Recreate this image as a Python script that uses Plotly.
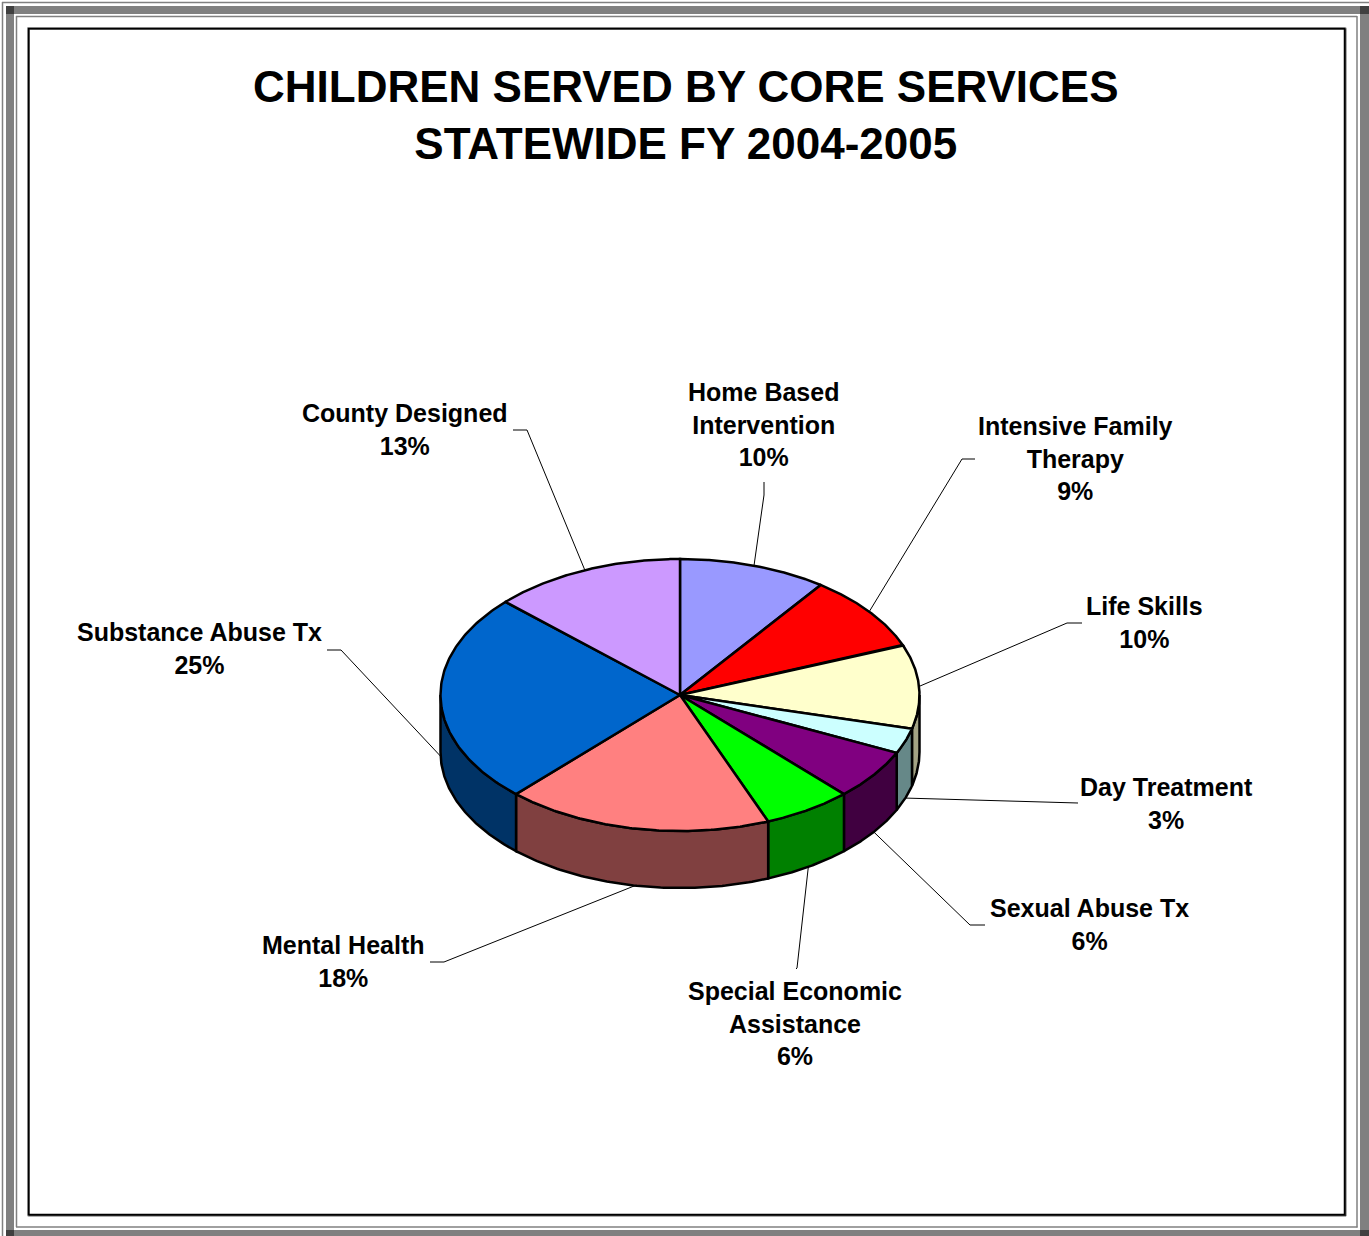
import numpy as np
import plotly.graph_objects as go

# ---- data -------------------------------------------------------------
categories = [
    "Home Based Intervention",
    "Intensive Family Therapy",
    "Life Skills",
    "Day Treatment",
    "Sexual Abuse Tx",
    "Special Economic Assistance",
    "Mental Health",
    "Substance Abuse Tx",
    "County Designed",
]
percent = [10, 9, 10, 3, 6, 6, 18, 25, 13]

# display wrapping of the longer category names
wrapped = {
    "Home Based Intervention": "Home Based<br>Intervention",
    "Intensive Family Therapy": "Intensive Family<br>Therapy",
    "Special Economic Assistance": "Special Economic<br>Assistance",
}

# ---- styling ----------------------------------------------------------
top_colors = ["#9999FF", "#FF0000", "#FFFFCC", "#CCFFFF", "#800080",
              "#00FF00", "#FF8080", "#0066CC", "#CC99FF"]
side_colors = ["#4D4D80", "#800000", "#A3A384", "#668888", "#400040",
               "#008000", "#804040", "#003366", "#664D80"]

W, H = 1369, 1236
CX, CY = 680.0, 695.0       # pie centre (page pixels)
RX, RY = 239.5, 136.0       # ellipse radii of the tilted top face
DEPTH = 57.0                # thickness of the pie

# label centres and leader-line elbow / end points (page pixels)
label_pos = [(763, 424), (1075, 458), (1144, 622), (1166, 803), (1089, 924),
             (795, 1023), (343, 961), (199, 648), (405, 429)]
leader_elbow = [(764, 495), (962, 459), (1067, 623), (1063, 803), (970, 925),
                (797, 968), (444, 962), (341, 650), (527, 430)]
leader_end = [(764, 482), (975, 459), (1082, 623), (1078, 803), (985, 925),
              (796, 969), (430, 962), (327, 650), (513, 430)]

FONT = "Liberation Sans, Arial, sans-serif"


def rim(t_deg, dy=0.0):
    t = np.radians(t_deg)
    return CX + RX * np.sin(t), CY - RY * np.cos(t) + dy


fig = go.Figure()

total = float(sum(percent))
ends = np.cumsum(percent) / total * 360.0
starts = np.concatenate([[0.0], ends[:-1]])

# side walls (only the front half, 90..270 deg clockwise from top, is visible)
for a0, a1, col in zip(starts, ends, side_colors):
    lo, hi = max(a0, 90.0), min(a1, 270.0)
    if hi <= lo:
        continue
    ts = np.linspace(lo, hi, 80)
    xt, yt = rim(ts)
    xb, yb = rim(ts[::-1], DEPTH)
    xs = np.concatenate([xt, xb, xt[:1]])
    ys = np.concatenate([yt, yb, yt[:1]])
    fig.add_trace(go.Scatter(x=xs, y=ys, mode="lines", fill="toself",
                             fillcolor=col, line=dict(color="black", width=2.5),
                             hoverinfo="skip", showlegend=False))

# top faces
for a0, a1, col in zip(starts, ends, top_colors):
    ts = np.linspace(a0, a1, 120)
    xa, ya = rim(ts)
    xs = np.concatenate([[CX], xa, [CX]])
    ys = np.concatenate([[CY], ya, [CY]])
    fig.add_trace(go.Scatter(x=xs, y=ys, mode="lines", fill="toself",
                             fillcolor=col, line=dict(color="black", width=2.5),
                             hoverinfo="skip", showlegend=False))

# leader lines and labels
annotations = []
for i, (a0, a1) in enumerate(zip(starts, ends)):
    mid = (a0 + a1) / 2.0
    dy = DEPTH if 90.0 <= mid <= 270.0 else 0.0
    ax, ay = rim(mid, dy)
    ex, ey = leader_elbow[i]
    nx, ny = leader_end[i]
    fig.add_trace(go.Scatter(x=[ax, ex, nx], y=[ay, ey, ny], mode="lines",
                             line=dict(color="black", width=1),
                             hoverinfo="skip", showlegend=False))
    name = wrapped.get(categories[i], categories[i])
    lx, ly = label_pos[i]
    annotations.append(dict(
        x=lx, y=ly, xref="x", yref="y", showarrow=False,
        text=f"<b>{name}<br>{percent[i]}%</b>",
        font=dict(family=FONT, size=25, color="black"),
        xanchor="center", yanchor="middle", align="center"))

annotations.append(dict(
    x=686, y=115, xref="x", yref="y", showarrow=False,
    text="<b>CHILDREN SERVED BY CORE SERVICES<br>STATEWIDE FY 2004-2005</b>",
    font=dict(family=FONT, size=44, color="black"),
    xanchor="center", yanchor="middle", align="center"))

# window-style frame around the chart area
GRAY, DARK = "#808080", "#404040"
shapes = [
    # thick bands
    dict(type="rect", x0=6, x1=14, y0=6, y1=H, fillcolor=GRAY, line_width=0),
    dict(type="rect", x0=6, x1=W, y0=6, y1=14, fillcolor=GRAY, line_width=0),
    dict(type="rect", x0=1360, x1=W, y0=6, y1=H, fillcolor=GRAY, line_width=0),
    dict(type="rect", x0=6, x1=W, y0=1230, y1=H, fillcolor=GRAY, line_width=0),
    # dark corners
    dict(type="rect", x0=6, x1=14, y0=6, y1=14, fillcolor=DARK, line_width=0),
    dict(type="rect", x0=1360, x1=W, y0=6, y1=14, fillcolor=DARK, line_width=0),
    dict(type="rect", x0=6, x1=14, y0=1230, y1=H, fillcolor=DARK, line_width=0),
    dict(type="rect", x0=1360, x1=W, y0=1230, y1=H, fillcolor=DARK, line_width=0),
    # thin outer lines
    dict(type="line", x0=2.5, x1=2.5, y0=2, y1=H, line=dict(color=GRAY, width=1.5)),
    dict(type="line", x0=2, x1=W, y0=2.5, y1=2.5, line=dict(color=GRAY, width=1.5)),
    # thin inner lines
    dict(type="line", x0=16.5, x1=16.5, y0=16, y1=1227, line=dict(color=GRAY, width=1.5)),
    dict(type="line", x0=16, x1=1357, y0=16.5, y1=16.5, line=dict(color=GRAY, width=1.5)),
    dict(type="line", x0=1357, x1=1357, y0=16, y1=1227.5, line=dict(color=GRAY, width=1.5)),
    dict(type="line", x0=16, x1=1357.5, y0=1227, y1=1227, line=dict(color=GRAY, width=1.5)),
    # chart area border with a soft shadow
    dict(type="rect", x0=27.5, x1=1346, y0=27.5, y1=1216,
         line=dict(color="#B0B0B0", width=1), fillcolor="rgba(0,0,0,0)"),
    dict(type="rect", x0=29, x1=1345.5, y0=29, y1=1215.5,
         line=dict(color="#303030", width=1.5), fillcolor="rgba(0,0,0,0)"),
    dict(type="rect", x0=28.5, x1=1344.5, y0=28.5, y1=1214.5,
         line=dict(color="black", width=1.5), fillcolor="rgba(0,0,0,0)"),
]

fig.update_layout(
    width=W, height=H, autosize=False,
    margin=dict(l=0, r=0, t=0, b=0, pad=0),
    paper_bgcolor="white", plot_bgcolor="white",
    xaxis=dict(range=[0, W], visible=False, fixedrange=True),
    yaxis=dict(range=[H, 0], visible=False, fixedrange=True),
    annotations=annotations, shapes=shapes, showlegend=False,
)

fig.write_html("out.html", config={"displayModeBar": False})
